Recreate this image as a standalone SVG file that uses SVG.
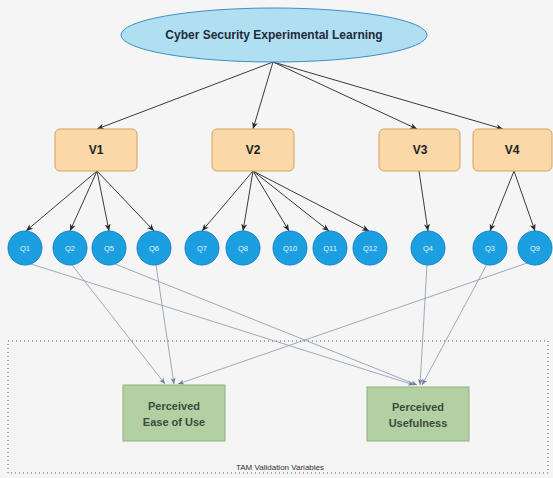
<svg xmlns="http://www.w3.org/2000/svg" width="553" height="478" viewBox="0 0 553 478">
<style>
.t{font-family:"Liberation Sans",Arial,sans-serif;text-anchor:middle;dominant-baseline:central}
.v rect{fill:#fad8a8;stroke:#d8a25a;stroke-width:1}
.v text{font-size:12px;font-weight:bold;fill:#222}
.q circle{fill:#1b9fe0;stroke:#1286c4;stroke-width:1}
.q text{font-size:7.5px;fill:#e8f4fc}
.g rect{fill:#b2d0a2;stroke:#8eb27c;stroke-width:1}
.g text{font-size:11px;font-weight:bold;fill:#3b4a3f}
.top line{stroke:#3a3a3a;stroke-width:1;marker-end:url(#a)}
.bot line{stroke:#8795ad;stroke-width:0.8;marker-end:url(#b)}
</style>
<defs>
<marker id="a" markerUnits="userSpaceOnUse" markerWidth="8" markerHeight="8" viewBox="0 0 8 8" refX="7" refY="4" orient="auto"><path d="M0,1 L7,4 L0,7 L2,4 z" fill="#2a2a2a"/></marker>
<marker id="b" markerUnits="userSpaceOnUse" markerWidth="7" markerHeight="7" viewBox="0 0 7 7" refX="6" refY="3.5" orient="auto"><path d="M0,1 L6,3.5 L0,6 L1.5,3.5 z" fill="#6f7f9a"/></marker>
</defs>
<rect x="0" y="0" width="553" height="478" fill="#f5f5f5"/>

<g id="tam-container">
<rect x="8" y="341" width="540" height="132" fill="none" stroke="#555" stroke-width="1" stroke-dasharray="1,3"/>
<text class="t" x="280" y="467" font-size="8" fill="#333">TAM Validation  Variables</text>
</g>

<g id="connectors">
<g class="top">
<line x1="273" y1="62" x2="97" y2="129"/>
<line x1="273" y1="62" x2="253" y2="129"/>
<line x1="273" y1="62" x2="417" y2="129"/>
<line x1="273" y1="62" x2="503" y2="129"/>
<line x1="97" y1="171" x2="26" y2="231"/>
<line x1="97" y1="171" x2="70" y2="231"/>
<line x1="97" y1="171" x2="109" y2="231"/>
<line x1="97" y1="171" x2="154" y2="231"/>
<line x1="253" y1="171" x2="202" y2="231"/>
<line x1="253" y1="171" x2="243" y2="231"/>
<line x1="253" y1="171" x2="289" y2="231"/>
<line x1="253" y1="171" x2="329" y2="231"/>
<line x1="253" y1="171" x2="369" y2="231"/>
<line x1="419" y1="171" x2="428" y2="231"/>
<line x1="514" y1="171" x2="490" y2="231"/>
<line x1="514" y1="171" x2="535" y2="231"/>
</g>
<g class="bot">
<line x1="31" y1="264" x2="414" y2="385"/>
<line x1="72" y1="265" x2="165" y2="384"/>
<line x1="115" y1="264" x2="417" y2="385"/>
<line x1="156" y1="265" x2="174" y2="384"/>
<line x1="427" y1="265" x2="420" y2="385"/>
<line x1="487" y1="264" x2="422" y2="385"/>
<line x1="530" y1="262" x2="178" y2="384"/>
</g>
</g>

<g id="root">
<ellipse cx="274" cy="35" rx="153" ry="27" fill="#b1dff2" stroke="#3f8fc4" stroke-width="1"/>
<text class="t" x="274" y="35" font-size="12" font-weight="bold" fill="#1f2a3a">Cyber Security Experimental Learning</text>
</g>

<g id="V1" class="v"><rect x="55" y="129" width="82" height="42" rx="5"/><text class="t" x="96" y="150">V1</text></g>
<g id="V2" class="v"><rect x="212" y="129" width="82" height="42" rx="5"/><text class="t" x="253" y="150">V2</text></g>
<g id="V3" class="v"><rect x="379" y="129" width="81" height="42" rx="5"/><text class="t" x="420" y="150">V3</text></g>
<g id="V4" class="v"><rect x="473" y="129" width="79" height="42" rx="5"/><text class="t" x="512" y="150">V4</text></g>

<g id="Q1" class="q"><circle cx="25" cy="248" r="17"/><text class="t" x="25" y="248">Q1</text></g>
<g id="Q2" class="q"><circle cx="70" cy="248" r="17"/><text class="t" x="70" y="248">Q2</text></g>
<g id="Q5" class="q"><circle cx="109" cy="248" r="17"/><text class="t" x="109" y="248">Q5</text></g>
<g id="Q6" class="q"><circle cx="154" cy="248" r="17"/><text class="t" x="154" y="248">Q6</text></g>
<g id="Q7" class="q"><circle cx="202" cy="248" r="17"/><text class="t" x="202" y="248">Q7</text></g>
<g id="Q8" class="q"><circle cx="243" cy="248" r="17"/><text class="t" x="243" y="248">Q8</text></g>
<g id="Q10" class="q"><circle cx="290" cy="248" r="17"/><text class="t" x="290" y="248">Q10</text></g>
<g id="Q11" class="q"><circle cx="330" cy="248" r="17"/><text class="t" x="330" y="248">Q11</text></g>
<g id="Q12" class="q"><circle cx="370" cy="248" r="17"/><text class="t" x="370" y="248">Q12</text></g>
<g id="Q4" class="q"><circle cx="428" cy="248" r="17"/><text class="t" x="428" y="248">Q4</text></g>
<g id="Q3" class="q"><circle cx="490" cy="248" r="17"/><text class="t" x="490" y="248">Q3</text></g>
<g id="Q9" class="q"><circle cx="535" cy="248" r="17"/><text class="t" x="535" y="248">Q9</text></g>

<g id="PEOU" class="g"><rect x="123" y="385" width="102" height="56"/><text class="t" x="174" y="406">Perceived</text><text class="t" x="174" y="422">Ease of Use</text></g>
<g id="PU" class="g"><rect x="367" y="387" width="102" height="54"/><text class="t" x="418" y="407">Perceived</text><text class="t" x="418" y="423">Usefulness</text></g>
</svg>
